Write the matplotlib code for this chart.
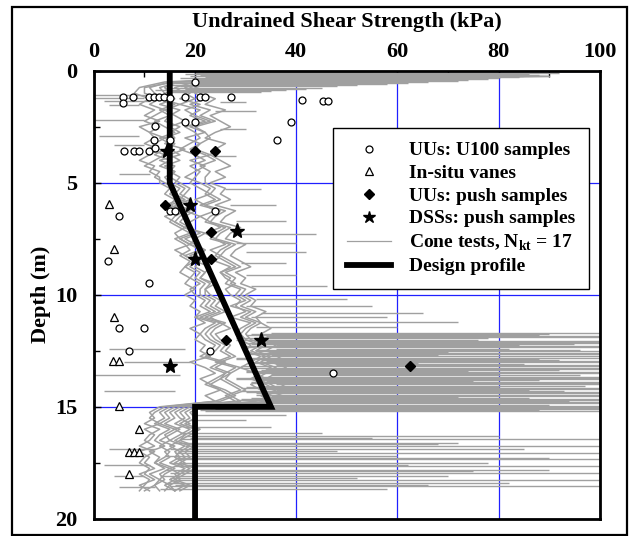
import numpy as np
import matplotlib
matplotlib.use('Agg')
import matplotlib.pyplot as plt
from matplotlib.lines import Line2D
from matplotlib.patches import Rectangle

plt.rcParams['font.family'] = ['Liberation Serif', 'DejaVu Serif']
plt.rcParams['font.weight'] = 'bold'
plt.rcParams['mathtext.fontset'] = 'custom'
plt.rcParams['mathtext.bf'] = 'Liberation Serif:bold'
plt.rcParams['mathtext.rm'] = 'Liberation Serif:bold'

# cone traces, sampled every 0.25 m from 0 to 18.75 m
CONE_DEPTH = np.arange(0, 19, 0.25)
CONE_1 = [18, 40, 14, 9,
          8, 11, 9, 12, 10, 13, 9, 11, 12, 10, 13, 11, 9, 12, 11, 13,
          13, 15, 14, 16, 15, 17, 14, 16, 18, 16, 17, 19, 16, 18, 20, 18, 17, 19, 18, 20,
          18, 20, 19, 21, 20, 22, 19, 21,
          20, 22, 21, 23, 19, 22, 24, 21, 23, 25, 22, 24,
          14, 12, 11, 13, 10, 12, 11, 9, 12, 10, 9, 11, 10, 12, 9, 11]
CONE_2 = [22, 65, 17, 13,
          14, 16, 13, 17, 15, 14, 17, 15, 16, 14, 18, 15, 17, 14, 16, 15,
          17, 19, 18, 17, 20, 18, 21, 19, 18, 22, 20, 19, 22, 21, 20, 23, 22, 21, 24, 22,
          23, 25, 24, 26, 23, 25, 27, 24,
          25, 27, 26, 28, 25, 29, 27, 26, 28, 30, 27, 29,
          17, 15, 16, 14, 17, 15, 13, 16, 14, 15, 13, 16, 14, 13, 15, 14]
CONE_3 = [25, 90, 20, 16,
          18, 20, 17, 21, 19, 22, 18, 20, 21, 19, 17, 20, 22, 19, 21, 20,
          19, 21, 23, 20, 22, 24, 21, 23, 25, 22, 24, 26, 23, 25, 24, 27, 25, 26, 28, 26,
          27, 29, 28, 30, 27, 31, 29, 28,
          29, 31, 30, 33, 31, 29, 32, 34, 31, 33, 35, 32,
          19, 17, 18, 16, 19, 17, 15, 18, 16, 17, 15, 18, 16, 17, 15, 16]
CONE_4 = [30, 75, 24, 20,
          21, 24, 22, 26, 23, 25, 27, 24, 22, 26, 24, 23, 25, 27, 24, 26,
          23, 26, 25, 27, 24, 28, 26, 25, 29, 27, 26, 30, 28, 27, 29, 31, 28, 30, 29, 32,
          30, 32, 31, 34, 32, 33, 35, 33,
          33, 36, 34, 37, 35, 38, 36, 34, 37, 39, 36, 38,
          21, 19, 20, 18, 21, 19, 17, 20, 18, 19, 17, 20, 18, 16, 19, 17]
CONE_5 = [20, 55, 15, 11,
          12, 14, 16, 13, 15, 12, 14, 16, 13, 15, 14, 12, 15, 13, 16, 14,
          15, 17, 16, 18, 15, 19, 17, 16, 18, 20, 17, 19, 21, 18, 20, 19, 21, 20, 22, 21,
          21, 23, 22, 24, 21, 25, 23, 22,
          23, 25, 24, 22, 26, 24, 27, 25, 23, 26, 28, 25,
          15, 13, 14, 12, 15, 13, 12, 14, 11, 13, 12, 14, 11, 13, 12, 10]
CONE_6 = [28, 85, 22, 18,
          19, 17, 21, 18, 20, 23, 19, 22, 18, 21, 20, 23, 19, 22, 20, 18,
          21, 23, 22, 24, 21, 25, 23, 22, 26, 24, 23, 27, 25, 24, 26, 28, 25, 27, 26, 29,
          28, 30, 27, 31, 29, 32, 30, 29,
          30, 33, 31, 34, 32, 35, 33, 31, 34, 36, 33, 35,
          18, 16, 17, 19, 16, 18, 17, 15, 17, 16, 18, 15, 17, 16, 14, 16]
CONE_7 = [19, 50, 16, 10,
          10, 13, 11, 14, 12, 10, 13, 11, 14, 12, 11, 14, 12, 10, 13, 12,
          14, 16, 15, 17, 14, 18, 16, 15, 17, 19, 16, 18, 19, 17, 19, 18, 20, 19, 21, 19,
          20, 22, 21, 23, 20, 24, 22, 21,
          22, 24, 23, 21, 25, 23, 26, 24, 22, 25, 27, 24,
          13, 11, 12, 10, 13, 11, 10, 12, 9, 11, 10, 12, 9, 11, 10, 9]
CONE_8 = [27, 80, 23, 19,
          20, 22, 19, 23, 21, 24, 20, 22, 23, 21, 19, 22, 24, 21, 23, 22,
          22, 24, 23, 25, 22, 26, 24, 23, 27, 25, 24, 28, 26, 25, 27, 29, 26, 28, 27, 30,
          29, 31, 29, 32, 30, 33, 31, 30,
          31, 34, 32, 35, 33, 36, 34, 32, 35, 37, 34, 36,
          20, 18, 19, 17, 20, 18, 16, 19, 17, 18, 16, 19, 17, 15, 18, 16]
CONE_9 = [21, 70, 16, 14,
          15, 13, 17, 14, 16, 18, 15, 17, 14, 16, 15, 17, 13, 16, 15, 17,
          16, 18, 17, 19, 16, 20, 18, 17, 19, 21, 18, 20, 22, 19, 21, 20, 22, 21, 23, 22,
          22, 24, 23, 25, 22, 26, 24, 23,
          24, 26, 25, 27, 24, 28, 26, 25, 27, 29, 26, 28,
          16, 14, 15, 13, 16, 14, 15, 13, 15, 14, 12, 15, 13, 14, 12, 13]

# thin layers in the cone records (depth, trace value, spike value)
SPIKE_DEPTH = [0.08, 0.12, 0.16, 0.2, 0.24, 0.28, 0.32, 0.36, 0.4, 0.45, 0.5,
               0.55, 0.6, 0.65, 0.7, 0.75, 0.8, 0.85, 0.9, 0.95,
               1.1, 1.2, 1.35, 1.55, 2.2, 2.9, 3.3, 4.6,
               1.4, 1.8, 2.6, 3.8, 5.3, 6.0, 6.7, 7.3, 7.7, 8.1, 8.6, 9.1, 9.6,
               10.2, 10.5, 10.8, 11.0, 11.2, 11.45,
               11.7, 11.8, 11.9, 12.0, 12.1, 12.2, 12.3, 12.4, 12.5, 12.6, 12.7, 12.8,
               12.9, 13.0, 13.1, 13.2, 13.3, 13.4, 13.5, 13.6, 13.7, 13.8, 13.9, 14.0,
               14.1, 14.2, 14.3, 14.4, 14.5, 14.6, 14.7, 14.8, 14.9, 15.0, 15.1, 15.2,
               11.75, 11.85, 11.95, 12.05, 12.15, 12.25, 12.35, 12.45, 12.55, 12.65,
               12.75, 12.85, 12.95, 13.05, 13.15, 13.25, 13.35, 13.45, 13.55, 13.65,
               13.75, 13.85, 13.95, 14.05, 14.15, 14.25, 14.35, 14.45, 14.55, 14.65,
               14.75, 14.85, 14.95, 15.05, 15.15,
               12.4, 13.0, 13.6, 14.3,
               15.35, 15.6, 15.9, 16.15,
               16.3, 16.45, 16.6, 16.75, 16.9, 17.05, 17.2, 17.35, 17.5, 17.65,
               17.8, 17.95, 18.1, 18.25, 18.4, 18.55, 18.65,
               16.38, 16.68, 16.98, 17.28, 17.58, 17.88, 18.18, 18.48,
               16.9, 17.6, 18.1, 18.6]
SPIKE_FROM = [22, 20, 18, 21, 19, 22, 17, 20, 23, 18, 21,
              16, 19, 15, 17, 14, 18, 12, 15, 14,
              12, 10, 11, 9, 10, 9, 10, 11,
              25, 24, 25, 24, 26, 27, 28, 29, 28, 30, 29, 30, 31,
              32, 30, 33, 31, 34, 32,
              35, 30, 33, 28, 34, 31, 29, 36, 32, 30, 35, 28,
              33, 31, 36, 29, 34, 30, 32, 35, 28, 33, 31, 36,
              30, 34, 29, 32, 35, 31, 28, 33, 30, 34, 24, 22,
              31, 34, 28, 33, 30, 36, 29, 32, 35, 30,
              33, 28, 34, 31, 36, 29, 33, 30, 35, 32,
              28, 34, 31, 33, 29, 36, 30, 32, 34, 29,
              33, 31, 35, 23, 21,
              18, 19, 17, 16,
              20, 19, 18, 17,
              18, 17, 16, 18, 15, 16, 14, 17, 15, 16,
              14, 15, 13, 16, 14, 15, 13,
              19, 18, 17, 16, 18, 17, 15, 16,
              12, 11, 10, 12]
SPIKE_TO = [70, 92, 86, 88, 90, 84, 80, 78, 74, 72, 66,
            62, 58, 52, 48, 45, 42, 38, 35, 33,
            0, 0, 2, 3, 0, 1, 4, 5,
            30, 32, 30, 28, 33, 36, 38, 44, 40, 42, 38, 40, 46,
            50, 55, 65, 58, 72, 60,
            100, 88, 100, 76, 100, 95, 100, 82, 100, 100, 68, 100,
            92, 100, 85, 100, 100, 74, 100, 96, 100, 88, 100, 100,
            80, 100, 93, 100, 100, 86, 100, 100, 90, 100, 100, 100,
            90, 100, 78, 100, 100, 84, 100, 96, 70, 100,
            100, 88, 100, 64, 100, 100, 92, 100, 80, 100,
            100, 75, 100, 97, 100, 86, 100, 100, 72, 100,
            94, 100, 100, 100, 88,
            3, 6, 0, 2,
            38, 30, 35, 45,
            80, 100, 72, 100, 85, 100, 60, 100, 78, 100,
            90, 100, 70, 100, 82, 100, 58,
            55, 68, 48, 90, 62, 75, 52, 66,
            3, 2, 4, 5]

# laboratory and in-situ tests: (kPa, depth m)
U100_SU = [20, 5.8, 7.8, 10.9, 11.9, 12.9, 13.9, 15.0, 18.0, 20.9, 21.9, 27.1, 5.8,
           41.2, 45.2, 46.2, 18, 20, 39.0, 12.1, 11.9, 15, 36.2,
           5.9, 7.9, 8.9, 10.9, 12.0, 4.9, 15, 16.1, 24, 2.8, 10.9,
           4.9, 9.9, 6.9, 23.0, 47.3]
U100_Z = [0.48, 1.17, 1.17, 1.17, 1.17, 1.17, 1.17, 1.2, 1.17, 1.17, 1.17, 1.17, 1.45,
          1.32, 1.34, 1.34, 2.27, 2.27, 2.3, 2.47, 3.11, 3.11, 3.1,
          3.56, 3.56, 3.56, 3.56, 3.45, 6.47, 6.24, 6.24, 6.24, 8.5, 9.48,
          11.5, 11.5, 12.5, 12.5, 13.5]
VANE_SU = [3.0, 4.0, 3.9, 3.8, 5.0, 5.0, 9.0, 6.9, 7.9, 8.9, 6.9]
VANE_Z = [5.95, 7.96, 10.97, 12.95, 12.95, 14.96, 16.0, 17.0, 17.0, 17.0, 18.0]
PUSH_SU = [20, 24, 14, 23.1, 23.1, 26.1, 62.5]
PUSH_Z = [3.58, 3.58, 5.98, 7.2, 8.4, 12.0, 13.2]
DSS_SU = [14.4, 19, 28.2, 20, 33.1, 15]
DSS_Z = [3.6, 5.98, 7.17, 8.4, 12.0, 13.2]

DESIGN_SU = [15, 15, 35, 20, 20]
DESIGN_Z = [0, 5, 15, 15, 20]

fig = plt.figure(figsize=(6.3, 5.36), dpi=100)
ax = fig.add_axes([0.149, 0.032, 0.803, 0.836])

grey = '#a0a0a0'
for tr in [CONE_1, CONE_2, CONE_3, CONE_4, CONE_5, CONE_6, CONE_7, CONE_8, CONE_9]:
    ax.plot(tr, CONE_DEPTH, color=grey, lw=1.1, zorder=2)
ax.hlines(SPIKE_DEPTH, SPIKE_FROM, SPIKE_TO, color=grey, lw=1.0, zorder=2)

ax.plot(DESIGN_SU, DESIGN_Z, color='black', lw=4.2, solid_joinstyle='miter', zorder=3)

ax.plot(U100_SU, U100_Z, 'o', ms=5, mfc='white', mec='black', mew=0.9, zorder=4)
ax.plot(VANE_SU, VANE_Z, '^', ms=6, mfc='white', mec='black', mew=0.9, zorder=4)
ax.plot(PUSH_SU, PUSH_Z, 'D', ms=5, color='black', zorder=4)
ax.plot(DSS_SU, DSS_Z, '*', ms=11, color='black', zorder=4)

ax.set_xlim(0, 100)
ax.set_ylim(20, 0)
ax.xaxis.tick_top()
ax.xaxis.set_label_position('top')
ax.set_xticks([0, 20, 40, 60, 80, 100])
ax.set_xticks([10, 30, 50, 70, 90], minor=True)
ax.set_yticks([0, 5, 10, 15, 20])
ax.set_yticks([2.5, 7.5, 12.5, 17.5], minor=True)
ax.tick_params(which='both', direction='in', labelsize=16, width=1, top=True, bottom=False)
ax.tick_params(which='major', length=5)
ax.tick_params(which='minor', length=4)
ax.tick_params(axis='y', pad=12)
ax.tick_params(axis='x', pad=6)
ax.grid(True, which='major', color='#2020ff', lw=0.9)
ax.set_axisbelow(True)
for s in ax.spines.values():
    s.set_linewidth(2)
    s.set_zorder(6)

ax.set_xlabel('Undrained Shear Strength (kPa)', fontsize=16, fontweight='bold', labelpad=11)
ax.set_ylabel('Depth (m)', fontsize=16, fontweight='bold', labelpad=3)

handles = [
    Line2D([], [], ls='none', marker='o', ms=5, mfc='white', mec='black', mew=0.9),
    Line2D([], [], ls='none', marker='^', ms=6, mfc='white', mec='black', mew=0.9),
    Line2D([], [], ls='none', marker='D', ms=5, color='black'),
    Line2D([], [], ls='none', marker='*', ms=9, color='black'),
    Line2D([], [], color=grey, lw=0.9),
    Line2D([], [], color='black', lw=4.2),
]
labels = ['UUs: U100 samples', 'In-situ vanes', 'UUs: push samples',
          'DSSs: push samples', r'Cone tests, N$_{\mathbf{kt}}$ = 17', 'Design profile']
leg = ax.legend(handles, labels, loc='upper right', bbox_to_anchor=(0.978, 0.872),
                fancybox=False, framealpha=1, edgecolor='black',
                prop={'size': 14, 'weight': 'bold'}, handlelength=2.3,
                borderpad=0.7, labelspacing=0.26, handletextpad=0.9,
                borderaxespad=0)
leg.get_frame().set_linewidth(1)
leg.set_zorder(7)

fig.patches.append(Rectangle((12 / 630, 0.002), 615 / 630, 1 - 8 / 536,
                             transform=fig.transFigure, fill=False,
                             edgecolor='black', lw=1.6))

fig.savefig('out.png', dpi=100)
